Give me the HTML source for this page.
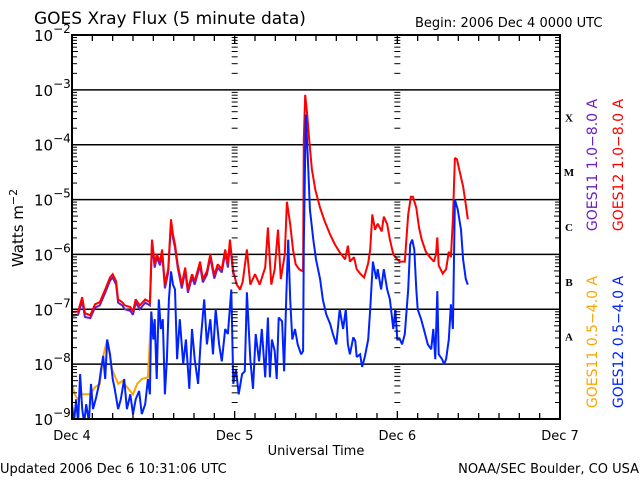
<!DOCTYPE html>
<html><head><meta charset="utf-8"><style>
body{margin:0;background:#fff;}
svg{display:block;font-family:"DejaVu Sans","Liberation Sans",sans-serif;}
</style></head><body>
<svg id="chart" width="640" height="480" viewBox="0 0 640 480">
<rect x="0" y="0" width="640" height="480" fill="#fff"/>
<text x="34" y="24" font-size="17">GOES Xray Flux (5 minute data)</text>
<text x="415" y="27" font-size="13">Begin:  2006 Dec 4 0000 UTC</text>
<g id="grid"></g>
<g id="series"></g>
<g id="axes"></g>
<text x="316" y="455" font-size="13" text-anchor="middle">Universal Time</text>
<text transform="translate(23,228) rotate(-90)" font-size="15" text-anchor="middle">Watts m<tspan dy="-6" font-size="11">−2</tspan></text>
<text x="0" y="473" font-size="13">Updated 2006 Dec  6 10:31:06 UTC</text>
<text x="639" y="473" font-size="13" text-anchor="end">NOAA/SEC Boulder, CO USA</text>
<g font-size="14">
<text transform="translate(597,165) rotate(-90)" text-anchor="middle" fill="#6a1fc0">GOES11 1.0−8.0 A</text>
<text transform="translate(623,165) rotate(-90)" text-anchor="middle" fill="#ff0000">GOES12 1.0−8.0 A</text>
<text transform="translate(597,342) rotate(-90)" text-anchor="middle" fill="#ffa500">GOES11 0.5−4.0 A</text>
<text transform="translate(623,342) rotate(-90)" text-anchor="middle" fill="#0022ff">GOES12 0.5−4.0 A</text>
</g>
</svg>
<script>
const dayLabels = ["Dec 4","Dec 5","Dec 6","Dec 7"];
const decades = [-2,-3,-4,-5,-6,-7,-8,-9];
const classLabels = ["X","M","C","B","A"];
const classLevels = [-4,-5,-6,-7,-8];
const redHours = [0,0.9,1.5,1.9,2.7,3.4,4.1,4.9,5.6,6.0,6.5,6.8,7.4,7.8,8.6,9.0,9.4,10.0,10.8,11.5,11.8,12.2,12.5,13.0,13.3,13.7,14.2,14.6,14.9,15.2,15.6,16.2,16.7,17.1,17.7,18.1,18.9,19.3,19.9,20.4,21.0,21.5,22.1,22.6,23.0,23.3,23.8,24.3,24.8,25.2,25.8,26.3,27.0,27.7,28.5,28.9,29.4,29.9,30.4,30.8,31.4,31.7,32.2,32.6,33.0,33.5,34.1,34.2,34.4,34.7,35.0,35.4,35.9,36.6,37.3,38.1,38.8,39.5,40.3,40.7,41.0,41.6,42.0,42.6,43.1,43.7,44.0,44.3,44.7,45.1,45.7,46.0,46.5,46.9,47.4,48.0,48.4,49.1,49.6,50.0,50.3,50.8,51.2,51.6,52.2,52.8,53.4,53.7,53.9,54.1,54.7,55.2,55.6,55.9,56.2,56.5,56.8,57.2,57.7,58.1,58.4];
const redLog = [-7.05,-7.04,-6.78,-7.07,-7.11,-6.91,-6.87,-6.64,-6.42,-6.36,-6.49,-6.82,-6.87,-6.93,-6.96,-7.04,-6.82,-6.93,-6.82,-6.87,-5.73,-6.18,-6.00,-6.13,-5.91,-6.55,-6.27,-5.36,-5.64,-5.82,-6.18,-6.55,-6.24,-6.64,-6.36,-6.49,-6.13,-6.45,-6.31,-6.00,-6.38,-6.18,-6.27,-5.91,-6.18,-5.73,-6.31,-6.55,-6.64,-6.49,-5.91,-6.55,-6.36,-6.55,-6.24,-5.51,-6.55,-6.27,-5.55,-6.45,-6.00,-5.04,-5.45,-5.91,-6.18,-6.27,-6.31,-3.91,-3.09,-3.45,-3.91,-4.45,-4.82,-5.15,-5.40,-5.64,-5.82,-5.96,-6.09,-5.84,-6.13,-6.05,-6.27,-6.36,-6.42,-6.16,-5.91,-5.27,-5.55,-5.44,-5.58,-5.31,-5.45,-5.73,-6.00,-6.09,-6.13,-6.13,-5.27,-4.95,-4.95,-5.15,-5.51,-5.73,-5.95,-6.05,-6.13,-6.00,-5.69,-6.20,-6.35,-6.27,-5.95,-6.05,-5.36,-4.24,-4.27,-4.49,-4.76,-5.09,-5.36];
const blueHours = [0,0.3,0.6,0.9,1.2,1.5,1.8,2.1,2.5,2.8,3.1,3.5,4.0,4.3,4.6,4.9,5.2,5.6,6.0,6.3,6.8,7.2,7.7,8.1,8.6,9.0,9.4,9.9,10.3,10.8,11.2,11.5,11.7,12.0,12.2,12.5,12.8,13.1,13.4,13.7,14.0,14.3,14.6,14.9,15.2,15.5,15.9,16.4,16.8,17.3,17.7,18.1,18.6,19.0,19.5,19.9,20.4,20.8,21.2,21.7,22.1,22.6,23.0,23.5,23.8,24.2,24.6,25.1,25.5,25.8,26.3,26.7,27.1,27.6,28.0,28.5,28.9,29.2,29.5,29.9,30.2,30.5,31.0,31.3,31.6,31.9,32.2,32.5,32.9,33.3,33.8,34.1,34.2,34.5,34.8,35.1,35.6,36.0,36.6,37.0,37.5,38.1,38.5,39.0,39.5,40.0,40.4,40.7,41.0,41.5,41.8,42.0,42.5,42.8,43.2,43.7,44.0,44.4,44.9,45.1,45.6,46.0,46.5,46.9,47.4,47.7,48.0,48.4,48.7,49.1,49.6,49.9,50.2,50.5,50.8,51.0,51.5,51.9,52.5,53.0,53.3,53.6,53.9,54.1,54.6,54.9,55.2,55.6,55.9,56.2,56.5,56.9,57.4,57.7,58.1,58.4];
const blueLog = [-8.73,-9.1,-8.64,-9.1,-8.18,-8.82,-9.1,-8.73,-9.05,-8.36,-8.82,-8.64,-8.36,-8.09,-7.85,-8.27,-7.55,-7.82,-8.27,-8.45,-8.82,-8.64,-8.27,-8.82,-8.55,-8.91,-8.64,-8.49,-8.91,-8.73,-8.27,-8.55,-7.04,-7.55,-7.18,-8.27,-6.82,-7.36,-7.18,-8.55,-7.91,-6.82,-6.31,-6.55,-6.64,-7.91,-7.18,-8.00,-7.55,-8.45,-7.36,-7.91,-8.36,-7.55,-6.82,-7.64,-7.18,-7.82,-7.00,-7.64,-7.95,-7.36,-7.45,-6.64,-8.36,-8.09,-8.55,-8.18,-8.13,-6.69,-7.91,-8.45,-7.45,-7.95,-7.36,-8.24,-7.15,-8.24,-7.55,-7.76,-8.27,-7.15,-7.22,-8.13,-6.82,-5.73,-6.82,-7.55,-7.36,-7.64,-7.82,-7.76,-5.82,-3.45,-4.27,-5.18,-5.73,-6.09,-6.45,-6.82,-7.09,-7.27,-7.45,-7.64,-7.00,-7.36,-7.00,-7.64,-7.82,-7.51,-7.58,-7.87,-7.82,-8.05,-7.87,-7.55,-7.00,-6.13,-6.45,-6.27,-6.64,-6.27,-6.64,-6.82,-7.36,-7.00,-7.55,-7.55,-7.64,-7.45,-6.64,-5.82,-5.73,-5.91,-6.64,-7.00,-7.18,-7.36,-7.64,-7.73,-7.36,-7.91,-6.67,-7.82,-7.91,-8.00,-7.91,-7.55,-6.91,-7.36,-5.00,-5.18,-5.55,-6.09,-6.45,-6.55];
const orangeHours = [0,0.4,0.9,1.5,2.1,2.7,3.4,4.1,4.6,5.2,5.9,6.8,7.4,8.3,9.0,9.6,10.3,11.2,11.7];
const orangeLog = [-8.36,-8.55,-8.64,-8.55,-8.55,-8.55,-8.42,-8.36,-7.85,-7.55,-8.09,-8.36,-8.31,-8.45,-8.55,-8.36,-8.27,-8.24,-7.04];
const purpleHours = [0,0.9,1.5,1.9,2.7,3.4,4.1,4.9,5.6,6.0,6.5,6.8,7.4,7.8,8.6,9.0,9.4,10.0,10.8,11.5,11.8,12.2,12.5,13.0,13.3,13.7,14.2,14.6,14.9,15.2,15.6,16.2,16.7,17.1,17.7,18.1,18.9,19.3,19.9,20.4,21.0,21.5,22.1,22.6,23.0,23.3,23.8];
const purpleLog = [-7.12,-7.1,-6.85,-7.14,-7.16,-6.97,-6.93,-6.7,-6.48,-6.42,-6.55,-6.88,-6.93,-7.0,-7.03,-7.1,-6.88,-7.0,-6.88,-6.93,-5.8,-6.24,-6.06,-6.2,-5.97,-6.62,-6.33,-5.42,-5.7,-5.88,-6.24,-6.62,-6.3,-6.7,-6.42,-6.55,-6.2,-6.51,-6.37,-6.06,-6.44,-6.24,-6.33,-5.97,-6.24,-5.8,-6.37];

const NS="http://www.w3.org/2000/svg";
const L=72,R=560,T=35,B=419;
const xs=h=>L+h*(R-L)/72;
const ys=v=>T+(-2-v)*(B-T)/7;
function mk(tag,attrs,parent){const e=document.createElementNS(NS,tag);for(const k in attrs)e.setAttribute(k,attrs[k]);parent.appendChild(e);return e;}
const grid=document.getElementById('grid'),axes=document.getElementById('axes'),ser=document.getElementById('series');

decades.forEach((d,i)=>{
  if(d<-2&&d>-9){const ln=mk('line',{x1:L,x2:R,y1:ys(d),y2:ys(d),stroke:'#000','stroke-width':1.5},grid);
  
  }
  const t=mk('text',{x:34,y:ys(d)+6,'font-size':15},axes);
  
  
  t.textContent='10';
  const s=mk('tspan',{dy:-8,'font-size':12},t);s.textContent='−'+(-d);
  if(d>-9){for(let k=2;k<=9;k++){const y=ys(d-1+Math.log10(k));
    const len=k===5?6:5;
    [[L,L+len],[R-len,R],[xs(24)-3,xs(24)+3],[xs(48)-3,xs(48)+3]].forEach(p=>{
      mk('line',{x1:p[0],x2:p[1],y1:y,y2:y,stroke:'#000','stroke-width':1},axes);});}}
});
for(let h=0;h<=72;h+=3){const x=xs(h);const len=h%24===0?8:6;
  mk('line',{x1:x,x2:x,y1:B,y2:B-len,stroke:'#000','stroke-width':1.3},axes);
  mk('line',{x1:x,x2:x,y1:T,y2:T+len,stroke:'#000','stroke-width':1.3},axes);}
dayLabels.forEach((lab,i)=>{const t=mk('text',{x:xs(i*24),y:440,'font-size':13,'text-anchor':'middle'},axes);
  
  
  t.textContent=lab;});
classLabels.forEach((c,i)=>{const t=mk('text',{x:569,y:ys(classLevels[i]+0.5)+4,'font-size':11,'font-weight':'bold','text-anchor':'middle','font-family':'Liberation Serif, serif'},axes);
  
  
  t.textContent=c;});
const fr=mk('rect',{x:L,y:T,width:R-L,height:B-T,fill:'none',stroke:'#000','stroke-width':2},axes);



function pathD(hours,vals){let d='';for(let i=0;i<hours.length;i++){const x=xs(hours[i]),y=Math.min(ys(vals[i]),B+4);
  d+=(i===0?'M':'L')+x.toFixed(1)+' '+y.toFixed(1);}return d;}
function draw(hours,vals,color,name){const p=mk('path',{d:pathD(hours,vals),fill:'none',stroke:color,'stroke-width':2,'stroke-linejoin':'miter','stroke-miterlimit':2},ser);
  
  }
const cp=mk('clipPath',{id:'clip'},document.getElementById('chart'));
mk('rect',{x:L,y:T,width:R-L,height:B-T},cp);
ser.setAttribute('clip-path','url(#clip)');
draw(purpleHours,purpleLog,'#6a1fc0','goes11-long-line');
draw(redHours,redLog,'#ff0000','goes12-long-line');
draw(orangeHours,orangeLog,'#ffa500','goes11-short-line');
draw(blueHours,blueLog,'#0022ff','goes12-short-line');
</script>
</body></html>
